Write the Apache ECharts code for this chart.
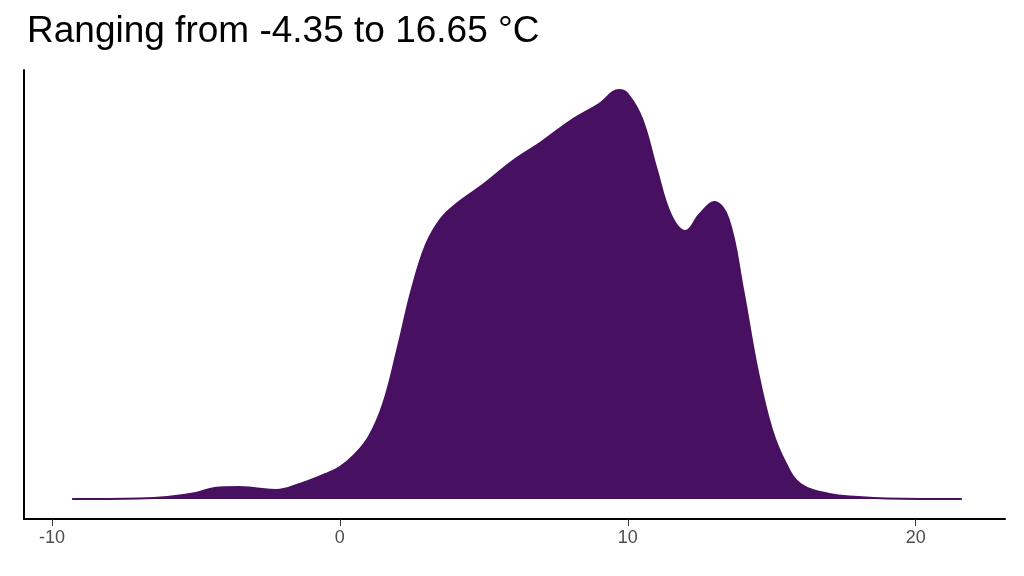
<!DOCTYPE html>
<html>
<head>
<meta charset="utf-8">
<script src="https://cdn.jsdelivr.net/npm/echarts@6/dist/echarts.min.js"></script>
<style>html,body{margin:0;padding:0;background:#fff}#chart{width:1024px;height:576px}</style>
</head>
<body>
<div id="chart"></div>
<script>
// density curve (x = temperature, y = relative density)
var temps = [-9.3,-7,-6,-5,-4.35,-3.5,-3,-2.2,-1.5,-0.5,0,0.5,1,1.5,2,2.5,3,3.5,4,5,6,7,8,9,9.7,10,10.5,11,11.5,12,12.5,13,13.5,14,14.5,15,15.5,16,17,18,19,21.6];
var density = [0,0.5,2,6,11,12,11,9,14,25,32,44,62,95,150,210,255,280,294,315,338,357,378,395,409,405,380,330,284,268,285,297,280,210,130,70,35,15,5,2,0.5,0];
var tickValues = [-10, 0, 10, 20];

var chart = echarts.init(document.getElementById('chart'));
chart.setOption({
    animation: false,
    title: {
        text: 'Ranging from -4.35 to 16.65 °C',
        left: 22, top: 8,
        textStyle: {fontFamily: 'Liberation Sans', fontSize: 37, fontWeight: 'normal', color: '#000'}
    },
    grid: {left: 24, right: 19, top: 70, bottom: 57},
    xAxis: {
        type: 'value', min: -10.97, max: 23.1,
        splitLine: {show: false},
        axisLine: {onZero: false, lineStyle: {color: '#000', width: 2}},
        axisTick: {customValues: tickValues, length: 7, lineStyle: {color: '#333'}},
        axisLabel: {customValues: tickValues, color: '#4d4d4d', fontSize: 18, fontFamily: 'Liberation Sans', margin: 10}
    },
    yAxis: {
        type: 'value', min: -20, max: 429,
        splitLine: {show: false},
        axisLine: {show: true, onZero: false, lineStyle: {color: '#000', width: 2}},
        axisTick: {show: false},
        axisLabel: {show: false}
    },
    series: [{
        type: 'line',
        data: temps.map(function (t, i) { return [t, density[i]]; }),
        smooth: 0.4,
        symbol: 'none',
        lineStyle: {color: '#481060', width: 2},
        areaStyle: {color: '#481060', opacity: 1, origin: 0}
    }]
});
</script>
</body>
</html>
